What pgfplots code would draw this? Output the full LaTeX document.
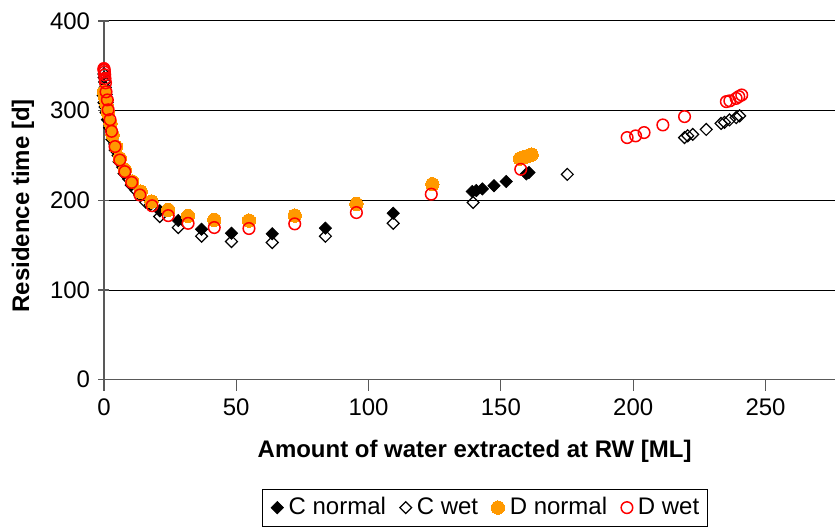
\documentclass[border=0pt]{standalone}
\usepackage{fontspec}
\setmainfont{Liberation Sans}
\usepackage{pgfplots}
\pgfplotsset{compat=1.18}
\definecolor{dorange}{HTML}{FF9900}
\definecolor{dred}{HTML}{FF0000}
\begin{document}
\fontsize{12}{14}\selectfont
\begin{tikzpicture}
\begin{axis}[
  scale only axis, width=366pt, height=179.5pt,
  xmin=0, xmax=276.4, ymin=0, ymax=400,
  xtick={0,50,...,250}, ytick={0,100,...,400},
  axis lines=left, axis line style={-, black!65, line width=0.6pt},
  ymajorgrids, grid style={black, line width=0.5pt},
  tick style={black!65, line width=0.6pt},
  major tick length=5.5pt,
  xtick align=outside, ytick align=center,
  /pgf/number format/assume math mode=true,
  tick label style={font=\fontsize{12}{14}\selectfont},
  clip=false,
  xlabel={Amount of water extracted at RW [ML]},
  ylabel={Residence time [d]},
  xlabel style={font=\bfseries\fontsize{12}{14}\selectfont,
    at={(axis description cs:0.5,0)}, anchor=center, yshift=-36pt, xshift=2.5pt},
  % the label is turned by 90 degrees, so its shifts act in the turned frame
  ylabel style={font=\bfseries\fontsize{12}{14}\selectfont,
    at={(axis description cs:0,0.5)}, anchor=center, yshift=40.5pt, xshift=-2.75pt},
  legend columns=4,
  legend style={at={(rel axis cs:0.2158,-0.3036)}, anchor=north west,
    draw=black, line width=0.5pt, font=\fontsize{12}{14}\selectfont,
    inner xsep=2pt, inner ysep=2pt,
    /tikz/every odd column/.append style={column sep=0.6pt},
    /tikz/every even column/.append style={column sep=2.4pt}},
  legend image code/.code={\path[draw=none,fill=none] (0pt,0pt) -- (5.5pt,0pt);
    \draw[#1] plot coordinates {(5.5pt,0pt)};},
]
% C normal: filled diamonds
\addplot[only marks, mark=square*, mark size=2.2pt,
  mark options={rotate=45, fill=black, draw=black, line width=0.3pt}]
coordinates {
(-0.3,317) (0,309) (0.4,304) (0.8,298) (1.3,290) (2.1,281) (3,268) (4.2,256)
(5.7,243) (7.6,230) (10.3,217) (13.5,206) (17.5,195) (21.1,188.3) (28.1,177.5)
(36.9,167.8) (48.2,163.4) (63.6,162.7) (83.7,169) (109.3,185.6) (139.2,209.8)
(140.7,210.9) (143,212.7) (147.4,216.4) (152,221) (159.6,229.5) (160.6,231)
};
\addlegendentry{C normal}
% C wet: open diamonds
\addplot[only marks, mark=square, mark size=2.1pt,
  mark options={rotate=45, draw=black, fill=white, line width=0.6pt}]
coordinates {
(0,341) (0.1,337) (0.3,332) (0.5,326) (0.8,318) (1.2,309) (1.7,299) (2.3,288)
(3.1,276) (4.1,263) (5.4,250) (7.1,237) (9.3,224) (12.2,211) (15.8,198) (21.1,182)
(28.1,169.7) (36.9,160) (48.2,154.1) (63.6,153) (83.7,160) (109.3,174.4)
(139.5,197.6) (175.1,229) (219.4,270) (220.6,272) (222.5,273.6) (227.6,279.1)
(233.2,285.8) (234.5,287) (236.4,289.7) (238.9,292.3) (240.2,294.2)
};
\addlegendentry{C wet}
% D normal: filled orange circles
\addplot[only marks, mark=*, mark size=3.35pt,
  mark options={fill=dorange, draw=dorange, line width=0pt}]
coordinates {
(0,321) (0.3,317) (0.6,313) (1,307) (1.6,297) (2.5,286) (3.3,273) (4.5,260)
(6,247) (7.9,234) (10.7,221) (13.9,209.7) (18,198.7) (24.3,189.4) (31.8,182.7)
(41.7,178.3) (54.8,177.5) (72.1,183) (95.4,196) (124.1,218) (157.2,246.5)
(158.5,248) (159.7,249) (160.7,250) (161.6,251)
};
\addlegendentry{D normal}
% D wet: open red circles
\addplot[only marks, mark=o, mark size=2.9pt,
  mark options={draw=dred, line width=0.75pt}]
coordinates {
(0,347) (0,346) (0.1,345) (0.2,343) (0.3,340) (0.4,336) (0.6,331) (0.8,321)
(1.3,312) (1.6,301) (2.3,290) (2.9,277) (4.2,260) (6,245) (7.9,232) (10.5,220)
(13.6,206) (18.2,194) (24.3,183) (31.8,174.4) (41.7,169.7) (54.8,168.6)
(72.1,173.8) (95.4,186.4) (123.7,206.9) (157.5,234.6) (197.7,270) (200.9,271.9)
(204.1,275.6) (211.2,284.1) (219.4,293.4) (235.2,310.1) (236.5,311) (238.9,313.7)
(239.9,315.7) (241,317.5)
};
\addlegendentry{D wet}
\end{axis}
\path[use as bounding box] (-52pt,-69pt) rectangle (366pt,190pt);
\end{tikzpicture}
\end{document}
